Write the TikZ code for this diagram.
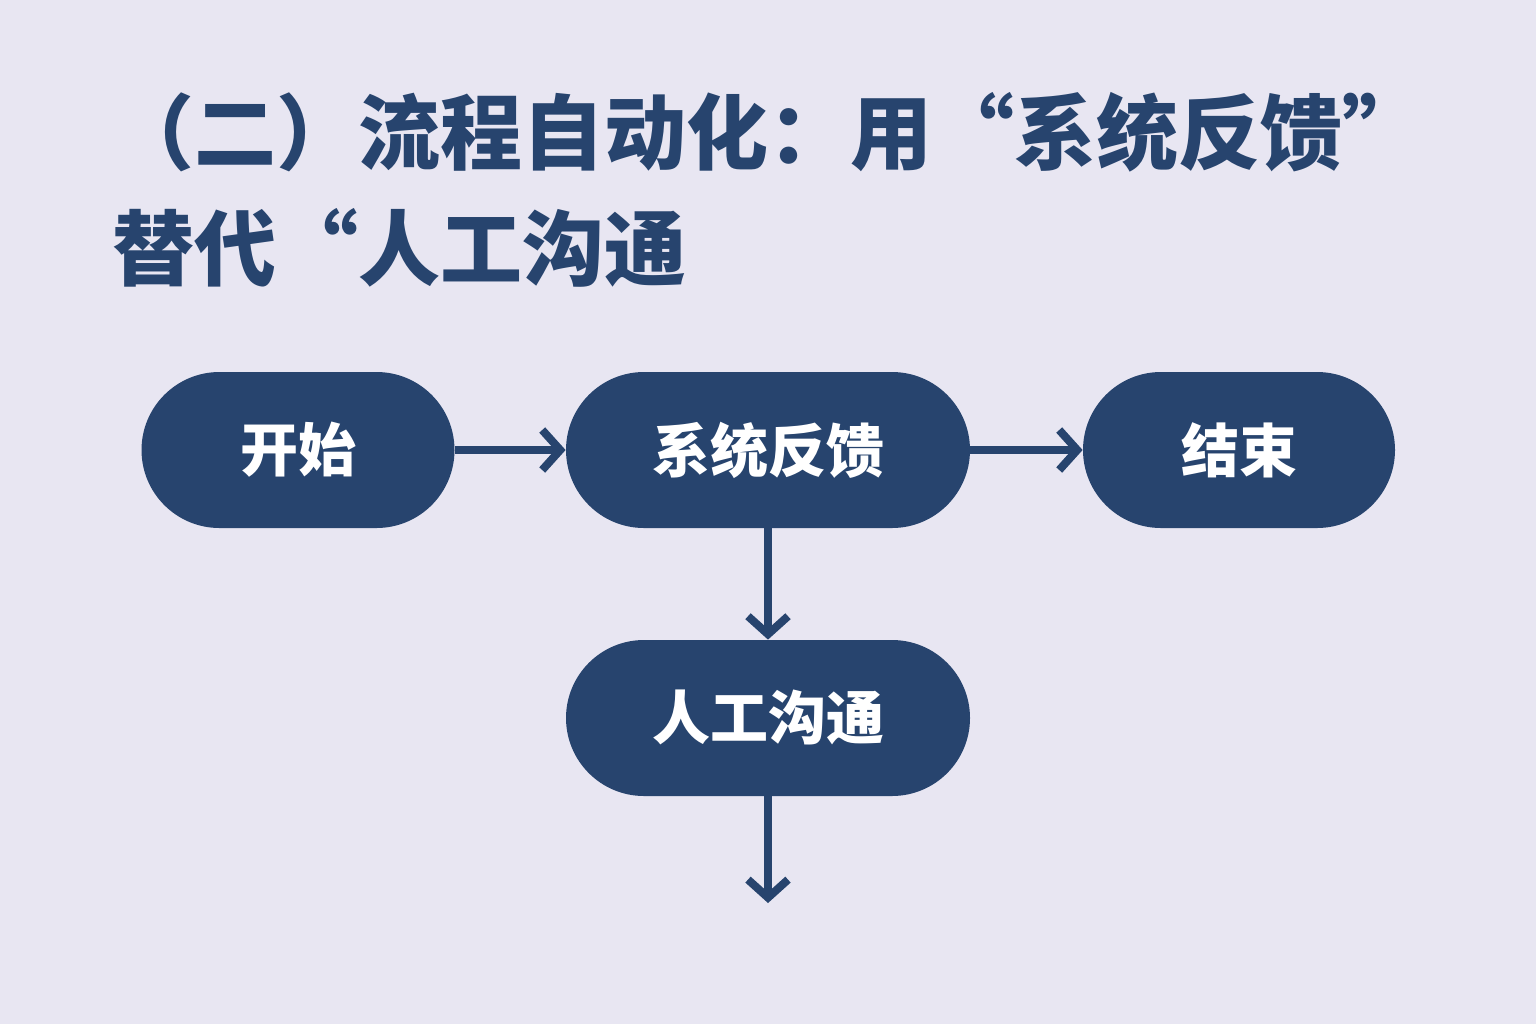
\documentclass[tikz,border=0pt]{standalone}
\usepackage{fontspec}
\newfontfamily\cjk{Noto Sans CJK SC}
\usetikzlibrary{arrows.meta}
\definecolor{bg}{HTML}{E8E6F2}
\definecolor{navy}{HTML}{27446E}
\tikzset{
 pill/.style={fill=navy,rounded rectangle/.style={},rounded corners=39pt,minimum height=78pt,text=white,font=\cjk\bfseries\fontsize{29}{32}\selectfont,inner sep=0pt},
 conn/.style={draw=navy,line width=4pt,-{Straight Barb[length=9pt,width=20pt,line width=4pt]}}
}
\begin{document}
\begin{tikzpicture}[x=0.5pt,y=-0.5pt]
\fill[bg] (0,0) rectangle (1536,1024);
\useasboundingbox (0,0) rectangle (1536,1024);
\node[anchor=north west,text=navy,font=\cjk\bfseries\fontsize{41}{58}\selectfont,align=left,inner sep=0pt] (title) at (112,92) {（二）流程自动化：用“系统反馈”\\替代“人工沟通};
\node[pill,minimum width=156.5pt] (start) at (298,450) {开始};
\node[pill,minimum width=202pt] (sys) at (768,450) {系统反馈};
\node[pill,minimum width=156pt] (end) at (1239,450) {结束};
\node[pill,minimum width=202pt] (man) at (768,718) {人工沟通};
\coordinate (out) at (768,903);
\draw[conn] (start) -- (sys);
\draw[conn] (sys) -- (end);
\draw[conn] (sys) -- (man);
\draw[conn] (man) -- (out);
\end{tikzpicture}
\end{document}
